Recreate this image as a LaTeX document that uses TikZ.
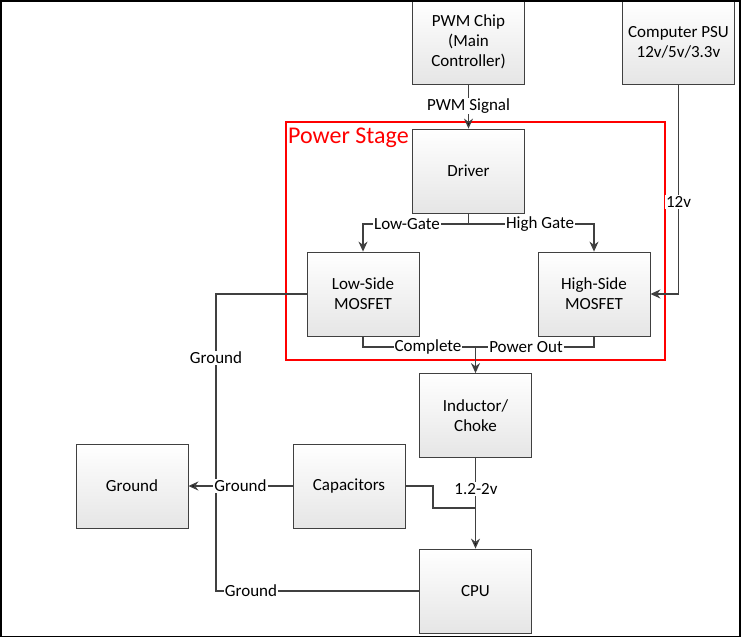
\documentclass[tikz,border=0pt]{standalone}
\usepackage{fontspec}
\setmainfont{Carlito}
\usetikzlibrary{arrows.meta}
\usetikzlibrary{positioning}

\begin{document}
\begin{tikzpicture}[x=1pt,y=-1pt,>={Stealth[length=10pt,width=9pt]},
    box node/.style={rectangle,draw=black!75,line width=0.8pt,top color=white,bottom color=black!10,minimum width=112pt,minimum height=84pt,inner sep=2pt,align=center,font=\fontsize{17}{20}\selectfont},
    tag node/.style={fill=white,inner sep=1pt,font=\fontsize{17}{20}\selectfont},
    wire/.style={draw=black!75,line width=1.3pt}]
  \useasboundingbox (0,0) rectangle (742,638);
  % power stage frame
  \draw[red,line width=1.6pt] (286,122) rectangle (665,360);
  \node[anchor=west,red,inner sep=0pt,font=\fontsize{24}{28}\selectfont] (stage) at (288,138) {Power Stage};

  \node[box node] (pwm) at (468.5,42) {PWM Chip\\(Main\\Controller)};
  \node[box node] (psu) at (678.5,42) {Computer PSU\\12v/5v/3.3v};
  \node[box node] (drv) at (468.5,171) {Driver};
  \node[box node] (ls) at (363,294) {Low-Side\\MOSFET};
  \node[box node] (hs) at (594,294) {High-Side\\MOSFET};
  \node[box node] (ind) at (475.5,415.5) {Inductor/\\Choke};
  \node[box node] (cap) at (349,486) {Capacitors};
  \node[box node] (gnd) at (132,486) {Ground};
  \node[box node] (cpu) at (475.5,591) {CPU};

  \coordinate (gate) at (468.5,224);
  \coordinate (join) at (475.5,347);
  \coordinate (gbot) at (216,591);
  \coordinate (capbend) at (433,508);

  \path[wire,->] (pwm) edge (drv);
  \draw[wire,->] (drv.south) -- (gate) -| (ls.north);
  \draw[wire,->] (gate) -| (hs.north);
  \draw[wire,->] (psu) |- (hs);
  \draw[wire] (ls.west) -| (gbot) -- (cpu.west);
  \path[wire,->] (cap) edge (gnd);
  \draw[wire] (ls.south) |- (join);
  \draw[wire] (hs.south) |- (join);
  \draw[wire,->] (join) -- (ind.north);
  \path[wire,->] (ind) edge (cpu);
  \draw[wire] (cap.east) -| (capbend) -- (ind.south |- capbend);

  \node[tag node] (sig) at (468.5,106) {PWM Signal};
  \node[tag node] (lowg) at (407,224) {Low-Gate};
  \node[tag node] (highg) at (540,224) {High Gate};
  \node[tag node] (v12) at (678.5,202) {12v};
  \node[tag node] (compl) at (428,347) {Complete};
  \node[tag node] (pout) at (526,347) {Power Out};
  \node[tag node] (gnda) at (216,358) {Ground};
  \node[tag node] (gndb) at (240.5,486) {Ground};
  \node[tag node] (gndc) at (251,591) {Ground};
  \node[tag node] (vcore) at (476,489) {1.2-2v};

  \draw[black,line width=1.5pt] (0.75,0.75) rectangle (740,636.5);
\end{tikzpicture}
\end{document}
